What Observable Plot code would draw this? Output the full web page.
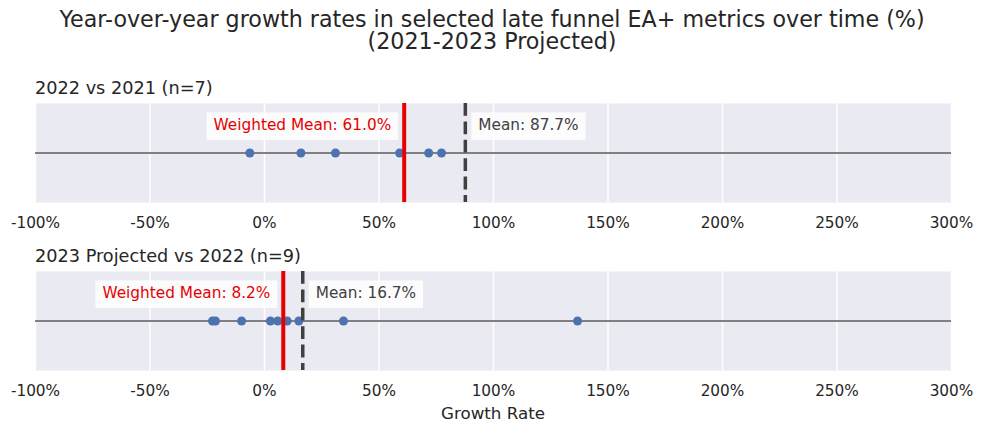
<!DOCTYPE html>
<html>
<head>
<meta charset="utf-8">
<script src="https://cdn.jsdelivr.net/npm/d3@7"></script>
<script src="https://cdn.jsdelivr.net/npm/@observablehq/plot@0.6"></script>
<style>
  html, body { margin: 0; padding: 0; background: #fff; }
  #root { position: relative; width: 984px; height: 433px; overflow: hidden; font-family: "DejaVu Sans", sans-serif; color: #262626; }
  .title { position: absolute; left: 0; width: 984px; text-align: center; font-size: 22.2px; line-height: 22.4px; white-space: nowrap; }
  .sub { position: absolute; left: 35px; font-size: 17.7px; line-height: 22px; white-space: nowrap; }
  .xlabel { position: absolute; left: 35px; width: 916px; text-align: center; font-size: 16.7px; line-height: 20px; }
  .panel { position: absolute; left: 0; }
</style>
</head>
<body>
<div id="root"></div>
<script>
const titleLines = ["Year-over-year growth rates in selected late funnel EA+ metrics over time (%)", "(2021-2023 Projected)"];
const panelTitles = ["2022 vs 2021 (n=7)", "2023 Projected vs 2022 (n=9)"];
const xLabel = "Growth Rate";
const xTicks = [-100, -50, 0, 50, 100, 150, 200, 250, 300];
const growth2022 = [-6.4, 15.9, 31.0, 59.0, 71.7, 77.3, 365.4];
const growth2023 = [-22.7, -21.4, -10.0, 2.6, 5.8, 9.9, 15.0, 34.5, 136.7];
const means = [87.7, 16.7];
const weightedMeans = [61.0, 8.2];

const root = document.getElementById("root");

const title = document.createElement("div");
title.className = "title";
title.style.top = "7.8px";
titleLines.forEach((t, i) => {
  if (i > 0) title.appendChild(document.createElement("br"));
  title.appendChild(document.createTextNode(t));
});
root.appendChild(title);

const series = [growth2022, growth2023];
const panelTops = [95, 263];
const subTops = [77.2, 245.2];

series.forEach((vals, i) => {
  const s = document.createElement("div");
  s.className = "sub";
  s.style.top = subTops[i] + "px";
  s.textContent = panelTitles[i];
  root.appendChild(s);

  const chart = Plot.plot({
    width: 984,
    height: 142,
    marginLeft: 35,
    marginRight: 33,
    marginTop: 8,
    marginBottom: 35,
    style: { background: "transparent", fontFamily: "DejaVu Sans", fontSize: "15.3px", color: "#262626", overflow: "visible" },
    x: { domain: [-100, 300], ticks: xTicks, tickFormat: d => d + "%", tickSize: 0, tickPadding: 15, label: null },
    y: { domain: [-1, 1], axis: null },
    marks: [
      Plot.frame({ fill: "#EAEAF2", stroke: null }),
      Plot.gridX(xTicks, { stroke: "white", strokeOpacity: 1, strokeWidth: 1.5 }),
      Plot.ruleY([0], { stroke: "#808080", strokeWidth: 2 }),
      Plot.dot(vals, { x: d => d, y: () => 0, r: 4.5, fill: "#4C72B0", stroke: null, clip: true }),
      Plot.ruleX([weightedMeans[i]], { stroke: "#e60000", strokeWidth: 4 }),
      Plot.ruleX([means[i]], { stroke: "#404040", strokeWidth: 3.5, strokeDasharray: "12.8,5.6" }),
      Plot.text([weightedMeans[i]], { x: d => d, frameAnchor: "top", lineAnchor: "middle", dy: 21.6, dx: -13, textAnchor: "end", text: d => `Weighted Mean: ${d.toFixed(1)}%`, fill: "#e60000", className: "boxed" }),
      Plot.text([means[i]], { x: d => d, frameAnchor: "top", lineAnchor: "middle", dy: 21.6, dx: 13, textAnchor: "start", text: d => `Mean: ${d.toFixed(1)}%`, fill: "#404040", className: "boxed" })
    ]
  });
  const wrap = document.createElement("div");
  wrap.className = "panel";
  wrap.style.top = panelTops[i] + "px";
  wrap.appendChild(chart);
  root.appendChild(wrap);

  // white label boxes behind annotation texts
  chart.querySelectorAll("g.boxed text").forEach(t => {
    const b = t.getBBox();
    const r = document.createElementNS("http://www.w3.org/2000/svg", "rect");
    r.setAttribute("x", b.x - 7);
    r.setAttribute("y", b.y - 3.6);
    r.setAttribute("width", b.width + 14);
    r.setAttribute("height", b.height + 9.5);
    r.setAttribute("fill", "white");
    r.setAttribute("fill-opacity", "0.85");
    const tr = t.getAttribute("transform");
    if (tr) r.setAttribute("transform", tr);
    t.parentNode.insertBefore(r, t);
  });
});

const xl = document.createElement("div");
xl.className = "xlabel";
xl.style.top = "403px";
xl.textContent = xLabel;
root.appendChild(xl);
</script>
</body>
</html>
